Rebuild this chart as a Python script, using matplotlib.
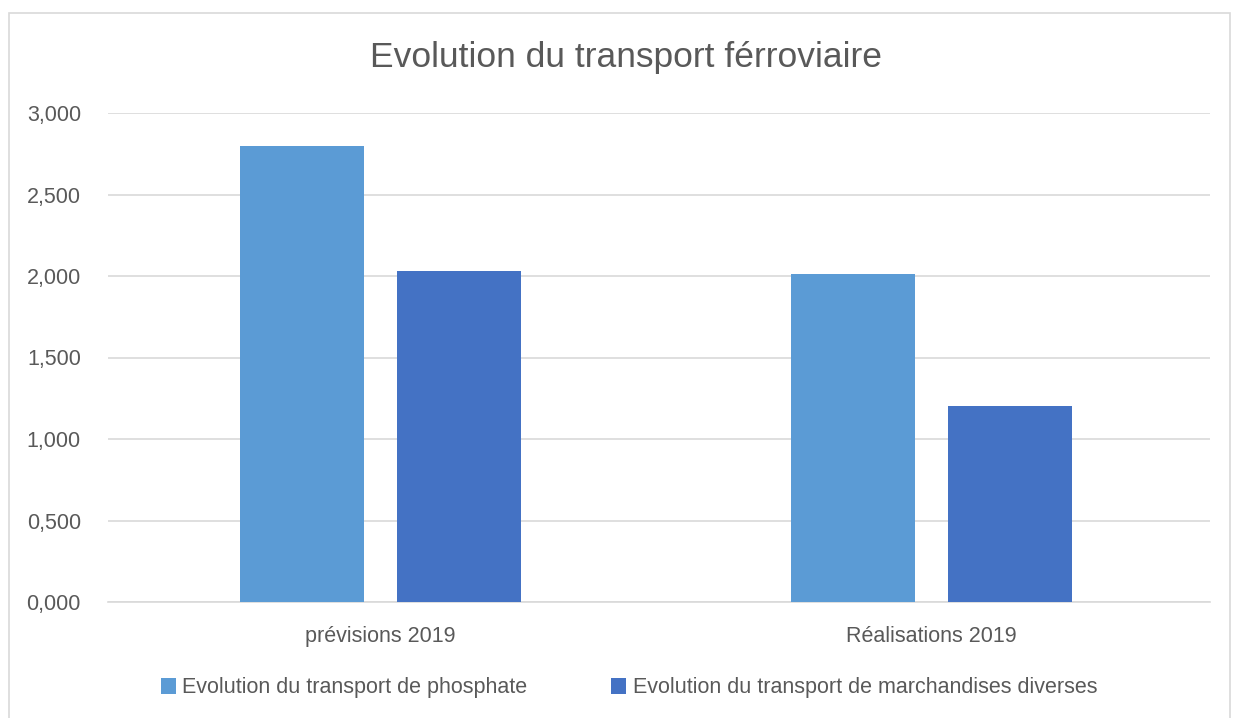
import numpy as np
import matplotlib.pyplot as plt
from matplotlib.ticker import FuncFormatter, MultipleLocator
from matplotlib.patches import Rectangle

# data
categories = ['prévisions 2019', 'Réalisations 2019']
phosphate = [2.80, 2.01]
marchandises = [2.03, 1.20]
series_names = ['Evolution du transport de phosphate',
                'Evolution du transport de marchandises diverses']
title = 'Evolution du transport férroviaire'

c_light = '#5B9BD5'
c_dark = '#4472C4'
txt = '#595959'
grid = '#D9D9D9'

plt.rcParams['font.family'] = ['Liberation Sans', 'DejaVu Sans']

fig = plt.figure(figsize=(12.39, 7.18), dpi=100)
ax = fig.add_axes([108/1239, 1 - 602/718, (1210 - 108)/1239, (602 - 113)/718])

# outer chart border
fig.patches.append(Rectangle((9/1239, -0.01), (1230 - 9)/1239, 1 - 13/718 + 0.01,
                             transform=fig.transFigure, fill=False,
                             edgecolor=grid, linewidth=1.2))

x = np.arange(len(categories))
w = 0.225
off = w/2 + 0.03
ax.bar(x - off, phosphate, w, color=c_light, label=series_names[0], zorder=3)
ax.bar(x + off, marchandises, w, color=c_dark, label=series_names[1], zorder=3)

ax.set_xlim(-0.4945, 1.5055)
ax.set_ylim(0, 3)
ax.yaxis.set_major_locator(MultipleLocator(0.5))
ax.yaxis.set_major_formatter(FuncFormatter(lambda v, p: f'{v:.3f}'.replace('.', ',')))
ax.set_xticks(x)
ax.set_xticklabels(categories)
ax.grid(axis='y', color=grid, linewidth=1.2, zorder=0)
for s in ['top', 'right', 'left']:
    ax.spines[s].set_visible(False)
ax.spines['bottom'].set_color(grid)
ax.spines['bottom'].set_linewidth(1.2)
ax.tick_params(length=0, colors=txt, labelsize=15.5)
ax.tick_params(axis='x', pad=17.5)
ax.tick_params(axis='y', pad=19.5)

fig.text(626/1239, 1 - 58/718, title, ha='center', va='center', fontsize=25.5, color=txt)

leg = fig.legend(loc='center', bbox_to_anchor=(629/1239, 1 - 688/718), ncol=2,
                 frameon=False, fontsize=15.5, handlelength=0.7, handleheight=0.7,
                 handletextpad=0.3, columnspacing=3.9)
for t in leg.get_texts():
    t.set_color(txt)

fig.savefig('out.png', dpi=100)
